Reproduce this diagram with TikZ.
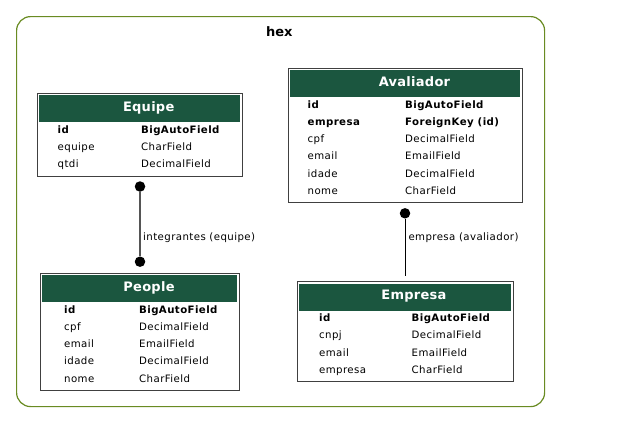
\documentclass[tikz,border=0pt]{standalone}
\usepackage{fontspec}
\setmainfont{DejaVu Sans}
\definecolor{hdrgreen}{HTML}{1B563F}
\definecolor{clusterc}{HTML}{698B22}
\definecolor{edgegray}{HTML}{555555}
\newcommand{\rowfont}{\fontsize{10.2}{12}\selectfont\addfontfeatures{LetterSpace=4}}
\newcommand{\hdrfont}{\fontsize{13}{15}\selectfont\bfseries\addfontfeatures{LetterSpace=2}}
\tikzset{
  modelbox/.style={draw=black!75, line width=1pt, fill=white, anchor=north west, inner sep=0pt, outer sep=0pt},
  hdrbox/.style={fill=hdrgreen, anchor=north west, inner sep=0pt, outer sep=0pt},
  hdrtext/.style={anchor=base, inner sep=0pt, text=white, font=\hdrfont},
  fld/.style={anchor=base west, inner sep=0pt, font=\rowfont},
  bfld/.style={anchor=base west, inner sep=0pt, font=\rowfont\bfseries},
  edgedot/.style={circle, fill=black, inner sep=0pt, minimum size=10.5pt, outer sep=0pt},
  lbl/.style={anchor=base west, inner sep=0pt, font=\rowfont},
}
\begin{document}
\begin{tikzpicture}[x=1pt, y=-1pt]
\useasboundingbox (0,0) rectangle (635,423);
% cluster
\node[draw=clusterc, line width=1.2pt, rounded corners=14pt, anchor=north west,
      minimum width=528pt, minimum height=390pt, inner sep=0pt] (cluster) at (16,16) {};
\node[anchor=base, inner sep=0pt, font=\fontsize{13}{15}\selectfont\bfseries] (title) at (279.3,36.7) {hex};

% ---------- Equipe ----------
\node[modelbox, minimum width=205pt, minimum height=83pt] (equipe) at (37,93) {};
\node[hdrbox, minimum width=201pt, minimum height=27pt] (equipeh) at (39,95) {};
\node[hdrtext] (equipet) at (148.7,111) {Equipe};
\node[bfld] (eq1a) at (57.5,133.3) {id};
\node[bfld] (eq1b) at (141,133.3) {BigAutoField};
\node[fld] (eq2a) at (57.5,150.5) {equipe};
\node[fld] (eq2b) at (141,150.5) {CharField};
\node[fld] (eq3a) at (57.5,167.7) {qtdi};
\node[fld] (eq3b) at (141,167.7) {DecimalField};

% ---------- Avaliador ----------
\node[modelbox, minimum width=234pt, minimum height=134pt] (aval) at (288,68) {};
\node[hdrbox, minimum width=230pt, minimum height=27pt] (avalh) at (290,70) {};
\node[hdrtext] (avalt) at (414.5,86) {Avaliador};
\node[bfld] (av1a) at (307.5,108.3) {id};
\node[bfld] (av1b) at (405,108.3) {BigAutoField};
\node[bfld] (av2a) at (307.5,125.5) {empresa};
\node[bfld] (av2b) at (405,125.5) {ForeignKey (id)};
\node[fld] (av3a) at (307.5,142.7) {cpf};
\node[fld] (av3b) at (405,142.7) {DecimalField};
\node[fld] (av4a) at (307.5,159.9) {email};
\node[fld] (av4b) at (405,159.9) {EmailField};
\node[fld] (av5a) at (307.5,177.1) {idade};
\node[fld] (av5b) at (405,177.1) {DecimalField};
\node[fld] (av6a) at (307.5,194.3) {nome};
\node[fld] (av6b) at (405,194.3) {CharField};

% ---------- People ----------
\node[modelbox, minimum width=199pt, minimum height=117pt] (people) at (40,273) {};
\node[hdrbox, minimum width=195pt, minimum height=27pt] (peopleh) at (42,275) {};
\node[hdrtext] (peoplet) at (149,291) {People};
\node[bfld] (pe1a) at (64,313.3) {id};
\node[bfld] (pe1b) at (139,313.3) {BigAutoField};
\node[fld] (pe2a) at (64,330.5) {cpf};
\node[fld] (pe2b) at (139,330.5) {DecimalField};
\node[fld] (pe3a) at (64,347.7) {email};
\node[fld] (pe3b) at (139,347.7) {EmailField};
\node[fld] (pe4a) at (64,364.9) {idade};
\node[fld] (pe4b) at (139,364.9) {DecimalField};
\node[fld] (pe5a) at (64,382.1) {nome};
\node[fld] (pe5b) at (139,382.1) {CharField};

% ---------- Empresa ----------
\node[modelbox, minimum width=216pt, minimum height=100pt] (empresa) at (297,281.5) {};
\node[hdrbox, minimum width=212pt, minimum height=27pt] (empresah) at (299,283.5) {};
\node[hdrtext] (empresat) at (414,299.5) {Empresa};
\node[bfld] (em1a) at (319,321.7) {id};
\node[bfld] (em1b) at (411.5,321.7) {BigAutoField};
\node[fld] (em2a) at (319,338.9) {cnpj};
\node[fld] (em2b) at (411.5,338.9) {DecimalField};
\node[fld] (em3a) at (319,356.1) {email};
\node[fld] (em3b) at (411.5,356.1) {EmailField};
\node[fld] (em4a) at (319,373.3) {empresa};
\node[fld] (em4b) at (411.5,373.3) {CharField};

% ---------- connectors ----------
\node[edgedot] (d1) at (140,186.5) {};
\node[edgedot] (d2) at (140,261.7) {};
\draw[edgegray, line width=1.4pt] (d1) -- (d2);
\node[lbl] (l1) at (143,240.7) {integrantes (equipe)};

\node[edgedot] (d3) at (405,213.3) {};
\coordinate (e3) at (405,275.7);
\draw[black, line width=1pt] (d3) -- (e3);
\node[lbl] (l2) at (408.3,240.7) {empresa (avaliador)};
\end{tikzpicture}
\end{document}
